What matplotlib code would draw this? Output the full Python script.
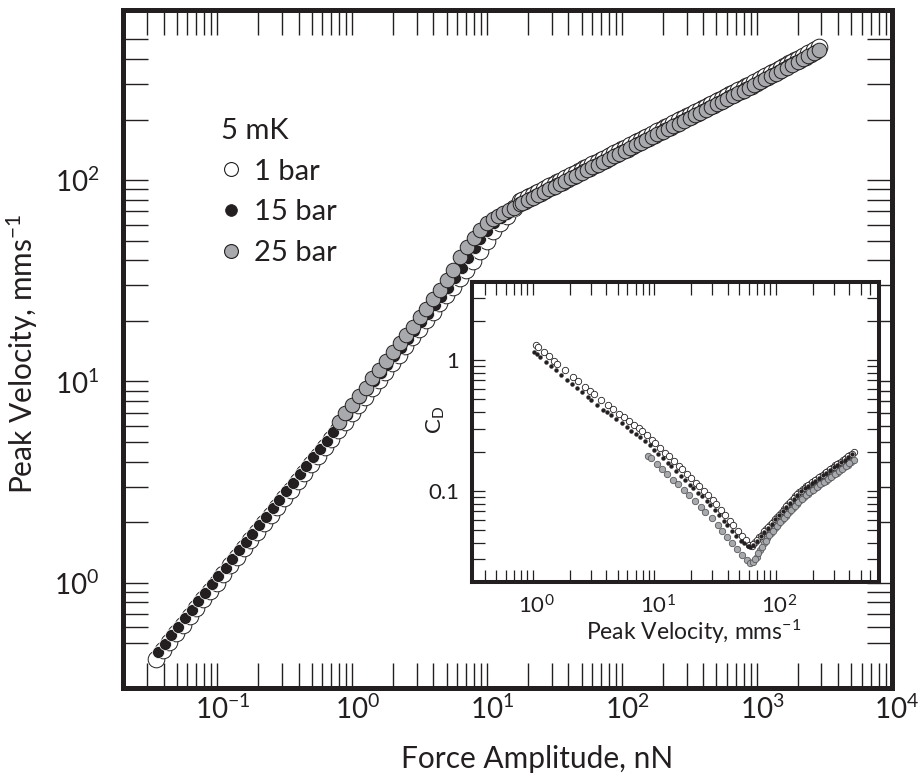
import matplotlib
matplotlib.use('Agg')
import matplotlib.pyplot as plt
from matplotlib.ticker import FixedLocator, FixedFormatter, NullFormatter
from matplotlib.lines import Line2D
from matplotlib.transforms import ScaledTranslation

plt.rcParams['font.family'] = ['Lato', 'DejaVu Sans']
plt.rcParams['mathtext.fontset'] = 'custom'
plt.rcParams['mathtext.rm'] = 'Lato'
plt.rcParams['mathtext.it'] = 'Lato:italic'
plt.rcParams['mathtext.bf'] = 'Lato:bold'

INK = '#231f20'
GREY = '#a7a9ac'

# ---------------- main panel data: Force amplitude (nN) vs peak velocity (mm/s)
force_upper = [17.4, 19.1, 20.9, 22.9, 25.1, 27.5, 30.2, 33.1, 36.3, 39.8, 43.7, 47.9,
               52.5, 57.5, 63.1, 69.2, 75.9, 83.2, 91.2, 100, 110, 120, 132, 145, 158,
               174, 191, 209, 229, 251, 275, 302, 331, 363, 398, 437, 479, 525, 575,
               631, 692, 759, 832, 912, 1000, 1096, 1202, 1318, 1445, 1585, 1738, 1905,
               2089, 2291, 2512, 2754]
force_upper_mid = [18.2, 20.0, 21.9, 24.0, 26.3, 28.8, 31.6, 34.7, 38.0, 41.7, 45.7, 50.1,
                   55.0, 60.3, 66.1, 72.4, 79.4, 87.1, 95.5, 104.7, 114.8, 125.9, 138.0,
                   151.4, 166.0, 182.0, 199.5, 218.8, 239.9, 263.0, 288.4, 316.2, 346.7,
                   380.2, 416.9, 457.1, 501.2, 549.5, 602.6, 660.7, 724.4, 794.3, 871.0,
                   955.0, 1047, 1148, 1259, 1380, 1514, 1660, 1820, 1995, 2188, 2399, 2630]

force_1bar_low = [0.0351, 0.0394, 0.0442, 0.0495, 0.0556, 0.0624, 0.0700, 0.0785, 0.0881,
                  0.0989, 0.111, 0.124, 0.140, 0.157, 0.176, 0.197, 0.221, 0.248, 0.279,
                  0.313, 0.351, 0.394, 0.442, 0.495, 0.556, 0.624, 0.700, 0.785, 0.881,
                  0.989, 1.11, 1.24, 1.40, 1.57, 1.76, 1.97, 2.21, 2.48, 2.79, 3.13, 3.51,
                  3.94, 4.42, 4.95, 5.56, 6.24, 7.00, 7.85, 8.81, 9.89, 11.1, 12.4, 14.0, 15.7]
vel_1bar_low = [0.420, 0.462, 0.509, 0.561, 0.618, 0.681, 0.750, 0.826, 0.910, 1.00, 1.10,
                1.22, 1.34, 1.48, 1.63, 1.79, 1.97, 2.17, 2.39, 2.64, 2.90, 3.20, 3.52, 3.88,
                4.28, 4.71, 5.19, 5.71, 6.30, 6.93, 7.64, 8.41, 9.27, 10.2, 11.2, 12.4, 13.6,
                15.0, 16.6, 18.2, 20.1, 22.1, 24.4, 26.9, 29.6, 32.6, 35.9, 39.8, 44.7, 50.1,
                55.6, 61.0, 66.1, 72.4]
vel_1bar_up = [78.5, 80.9, 83.4, 86.1, 88.8, 91.6, 94.5, 97.6, 100.7, 104.0, 107.3, 110.6,
               114.3, 117.9, 121.6, 125.5, 129.5, 133.7, 138.0, 142.3, 146.9, 151.5, 156.3,
               161.4, 166.4, 171.8, 177.3, 182.9, 188.8, 194.8, 200.9, 207.3, 213.9, 220.7,
               227.8, 235.0, 242.5, 250.3, 258.2, 266.5, 274.9, 283.6, 292.6, 301.9, 311.6,
               322.1, 333.2, 344.2, 356.1, 368.1, 380.5, 393.5, 406.4, 420.5, 434.5, 449.7]
vel_1bar_mid = [79.7, 82.2, 84.8, 87.5, 90.1, 93.0, 96.0, 99.2, 102.4, 105.7, 109.0, 112.4,
                116.0, 119.7, 123.6, 127.5, 131.5, 135.8, 140.1, 144.6, 149.1, 153.9, 158.8,
                163.8, 169.1, 174.5, 180.1, 185.8, 191.8, 197.8, 204.1, 210.6, 217.2, 224.2,
                231.4, 238.8, 246.3, 254.2, 262.4, 270.7, 279.2, 288.0, 297.3, 306.8, 316.8,
                327.6, 338.7, 350.1, 362.1, 374.3, 387.0, 399.9, 413.5, 427.5, 442.0]
force_1bar_end = [2884]
vel_1bar_end = [460]

force_15bar_low = [0.0363, 0.0407, 0.0457, 0.0513, 0.0575, 0.0646, 0.0724, 0.0813, 0.0912,
                   0.102, 0.115, 0.129, 0.145, 0.162, 0.182, 0.204, 0.229, 0.257, 0.288,
                   0.324, 0.363, 0.407, 0.457, 0.513, 0.575, 0.646, 0.724, 0.813, 0.912,
                   1.02, 1.15, 1.29, 1.45, 1.62, 1.82, 2.04, 2.29, 2.57, 2.88, 3.24, 3.63,
                   4.07, 4.57, 5.13, 5.75, 6.46, 7.24, 8.13, 8.91, 10.0, 11.2, 12.6, 14.1, 15.8]
vel_15bar_low = [0.453, 0.499, 0.550, 0.605, 0.667, 0.735, 0.809, 0.891, 0.982, 1.08, 1.19,
                 1.31, 1.45, 1.59, 1.75, 1.93, 2.13, 2.34, 2.58, 2.84, 3.13, 3.45, 3.80, 4.19,
                 4.61, 5.08, 5.60, 6.17, 6.79, 7.48, 8.24, 9.08, 10.0, 11.0, 12.1, 13.4, 14.7,
                 16.2, 17.9, 19.7, 21.7, 23.9, 26.3, 29.0, 32.5, 36.5, 41.0, 46.0, 51.0, 56.0,
                 61.0, 65.0, 68.0, 71.0]
vel_15bar_up = [74.9, 77.3, 79.7, 82.2, 84.8, 87.5, 90.3, 93.2, 96.2, 99.3, 102.5, 105.7,
                109.1, 112.6, 116.2, 119.9, 123.7, 127.7, 131.8, 135.9, 140.3, 144.7, 149.3,
                154.1, 159.0, 164.1, 169.3, 174.7, 180.3, 186.0, 191.9, 198.0, 204.3, 210.8,
                217.6, 224.5, 231.6, 239.0, 246.6, 254.5, 262.6, 270.9, 279.5, 288.4, 297.6,
                307.6, 318.2, 328.8, 340.2, 351.6, 363.4, 375.8, 388.2, 401.6, 415.0, 429.5]

force_25bar_low = [0.794, 0.891, 1.00, 1.12, 1.26, 1.41, 1.58, 1.78, 2.00, 2.24, 2.51, 2.82,
                   3.16, 3.55, 3.98, 4.47, 5.01, 5.62, 6.31, 7.08, 7.94, 8.91, 10.0, 11.0,
                   12.0, 13.2, 14.5, 15.8]
vel_25bar_low = [6.32, 6.97, 7.67, 8.45, 9.31, 10.4, 11.4, 12.6, 14.0, 15.5, 17.0, 18.7,
                 20.9, 23.0, 25.6, 28.6, 31.8, 35.9, 41.4, 46.7, 51.4, 56.5, 61.0, 63.8,
                 66.4, 68.7, 70.8, 72.8]
vel_25bar_up = [75.8, 78.2, 80.6, 83.2, 85.8, 88.5, 91.3, 94.3, 97.3, 100.5, 103.7, 106.9,
                110.4, 113.9, 117.5, 121.3, 125.1, 129.2, 133.3, 137.5, 141.9, 146.4, 151.0,
                155.9, 160.8, 166.0, 171.3, 176.7, 182.4, 188.2, 194.1, 200.3, 206.7, 213.2,
                220.1, 227.1, 234.3, 241.8, 249.5, 257.5, 265.6, 274.0, 282.7, 291.7, 301.1,
                311.2, 321.9, 332.6, 344.1, 355.7, 367.6, 380.2, 392.7, 406.3, 419.8, 434.5]
vel_25bar_mid = [77.0, 79.4, 81.9, 84.5, 87.1, 89.9, 92.8, 95.8, 98.9, 102.1, 105.3, 108.6,
                 112.1, 115.7, 119.4, 123.2, 127.1, 131.2, 135.4, 139.7, 144.1, 148.7, 153.4,
                 158.3, 163.4, 168.6, 174.0, 179.5, 185.3, 191.1, 197.2, 203.5, 209.9, 216.6,
                 223.6, 230.7, 238.0, 245.6, 253.5, 261.5, 269.8, 278.3, 287.2, 296.4, 306.1,
                 316.5, 327.2, 338.3, 349.9, 361.6, 373.9, 386.4, 399.5, 413.0, 427.1]
force_25bar_end = [2884]
vel_25bar_end = [443]

# ---------------- inset data: drag coefficient vs peak velocity
iv_1bar = [1.05, 1.10, 1.23, 1.35, 1.48, 1.58, 1.82, 2.14, 2.34, 2.69, 2.95, 3.16, 3.63, 4.17,
           4.57, 5.13, 5.62, 6.17, 6.76, 7.41, 7.94, 8.71, 9.55, 10.2, 11.2, 12.3, 13.2, 14.5,
           15.8, 17.0, 18.6, 20.0, 21.9, 23.4, 25.7, 27.5, 30.2, 32.4, 35.5, 38.0, 41.7, 44.7,
           49.0, 52.5, 56.2, 60.3,
           63.1, 67.6, 72.4, 77.6, 83.2, 89.1, 95.5, 102.3, 109.6, 117.5, 125.9, 134.9, 144.5,
           154.9, 166.0, 177.8, 190.5, 204.2, 218.8, 234.4, 251.2, 269.2, 288.4, 309.0, 331.1,
           354.8, 380.2, 407.4, 436.5,
           65.3, 70.0, 75.0, 80.4, 86.1, 92.3, 98.9, 105.9, 113.5, 121.6, 130.3, 139.6, 149.6,
           160.3, 171.8, 184.1, 197.2, 211.3, 226.5, 242.7, 260.0, 278.6, 298.5, 319.9, 342.8,
           367.3, 393.6, 421.7]
cd_1bar = [1.297, 1.253, 1.146, 1.064, 0.991, 0.940, 0.843, 0.743, 0.692, 0.621, 0.578, 0.548,
           0.495, 0.450, 0.422, 0.390, 0.366, 0.343, 0.321, 0.301, 0.287, 0.267, 0.246, 0.231,
           0.213, 0.196, 0.184, 0.169, 0.156, 0.147, 0.135, 0.126, 0.116, 0.109, 0.100, 0.0938,
           0.0859, 0.0796, 0.0716, 0.0661, 0.0594, 0.0548, 0.0493, 0.0455, 0.0421, 0.0389,
           0.0380, 0.0407, 0.0442, 0.0473, 0.0513, 0.0550, 0.0589, 0.0638, 0.0684, 0.0733,
           0.0794, 0.0851, 0.0912, 0.0977, 0.1035, 0.1084, 0.1135, 0.1189, 0.1245, 0.1303,
           0.1365, 0.1429, 0.1496, 0.1567, 0.1641, 0.1718, 0.1799, 0.1884, 0.1972,
           0.0393, 0.0424, 0.0457, 0.0493, 0.0531, 0.0569, 0.0613, 0.0661, 0.0708, 0.0763,
           0.0822, 0.0881, 0.0944, 0.1006, 0.1059, 0.1109, 0.1162, 0.1217, 0.1274, 0.1334,
           0.1397, 0.1462, 0.1531, 0.1604, 0.1679, 0.1758, 0.1841, 0.1928]

iv_15bar = [1.02, 1.07, 1.15, 1.29, 1.41, 1.55, 1.70, 1.91, 2.09, 2.29, 2.51, 2.82, 3.02, 3.39,
            3.80, 4.07, 4.37, 4.79, 5.37, 5.89, 6.46, 7.08, 7.59, 8.32, 9.12, 10.0, 10.7, 11.7,
            12.9, 13.8, 15.1, 16.6, 17.8, 19.5, 20.9, 22.9, 24.5, 26.9, 28.8, 31.6, 33.9, 37.2,
            39.8, 43.7, 46.8, 51.3, 55.0, 58.9, 61.7,
            65.3, 70.0, 75.0, 80.4, 86.1, 92.3, 98.9, 105.9, 113.5, 121.6, 130.3, 139.6, 149.6,
            160.3, 171.8, 184.1, 197.2, 211.3, 226.5, 242.7, 260.0, 278.6, 298.5, 319.9, 342.8,
            367.3, 393.6, 421.7]
cd_15bar = [1.151, 1.109, 1.052, 0.962, 0.895, 0.834, 0.774, 0.708, 0.659, 0.614, 0.571, 0.522,
            0.494, 0.453, 0.418, 0.398, 0.379, 0.356, 0.329, 0.308, 0.289, 0.271, 0.258, 0.242,
            0.223, 0.206, 0.193, 0.178, 0.164, 0.154, 0.142, 0.130, 0.122, 0.112, 0.106, 0.0968,
            0.0908, 0.0834, 0.0782, 0.0713, 0.0658, 0.0592, 0.0546, 0.0491, 0.0453, 0.0417,
            0.0398, 0.0380, 0.0372,
            0.0385, 0.0417, 0.0452, 0.0490, 0.0525, 0.0562, 0.0610, 0.0653, 0.0700, 0.0755,
            0.0813, 0.0871, 0.0933, 0.0993, 0.1047, 0.1096, 0.1148, 0.1202, 0.1259, 0.1318,
            0.1380, 0.1445, 0.1514, 0.1585, 0.1660, 0.1738, 0.1820, 0.1905]

iv_25bar = [8.91, 9.33, 10.5, 11.5, 12.6, 14.1, 15.5, 17.4, 19.1, 21.4, 24.0, 26.3, 29.5, 33.1,
            36.3, 39.8, 43.7, 47.9, 52.5, 57.5, 61.7,
            64.6, 69.2, 74.1, 79.4, 85.1, 91.2, 97.7, 104.7, 112.2, 120.2, 128.8, 138.0, 147.9,
            158.5, 169.8, 182.0, 195.0, 208.9, 223.9, 239.9, 257.0, 275.4, 295.1, 316.2, 338.8,
            363.1, 389.0, 416.9, 436.5,
            66.9, 71.6, 76.7, 82.2, 88.1, 94.4, 101.2, 108.4, 116.1, 124.4, 133.3, 142.9, 153.1,
            164.0, 175.8, 188.4, 201.8, 216.3, 231.8, 248.3, 266.0, 285.1, 305.5, 327.3, 350.7,
            375.8, 402.7]
cd_25bar = [0.185, 0.178, 0.160, 0.148, 0.136, 0.122, 0.113, 0.102, 0.0935, 0.0839, 0.0755,
            0.0692, 0.0622, 0.0550, 0.0493, 0.0444, 0.0399, 0.0359, 0.0324, 0.0295, 0.0282,
            0.0288, 0.0316, 0.0355, 0.0398, 0.0437, 0.0479, 0.0519, 0.0562, 0.0603, 0.0646,
            0.0692, 0.0741, 0.0794, 0.0851, 0.0902, 0.0955, 0.1000, 0.1047, 0.1096, 0.1148,
            0.1202, 0.1259, 0.1318, 0.1380, 0.1445, 0.1514, 0.1585, 0.1660, 0.1718,
            0.0302, 0.0335, 0.0376, 0.0417, 0.0458, 0.0499, 0.0540, 0.0582, 0.0624, 0.0669,
            0.0716, 0.0767, 0.0822, 0.0876, 0.0928, 0.0977, 0.1023, 0.1071, 0.1122, 0.1175,
            0.1230, 0.1288, 0.1349, 0.1412, 0.1479, 0.1549, 0.1622]

# ---------------- ticks / labels
main_x_major = [0.1, 1, 10, 100, 1000, 10000]
main_x_labels = [r'$\mathregular{10^{-1}}$', r'$\mathregular{10^{0}}$', r'$\mathregular{10^{1}}$',
                 r'$\mathregular{10^{2}}$', r'$\mathregular{10^{3}}$', r'$\mathregular{10^{4}}$']
main_y_major = [1, 10, 100]
main_y_labels = [r'$\mathregular{10^{0}}$', r'$\mathregular{10^{1}}$', r'$\mathregular{10^{2}}$']
inset_x_major = [1, 10, 100]
inset_x_labels = [r'$\mathregular{10^{0}}$', r'$\mathregular{10^{1}}$', r'$\mathregular{10^{2}}$']
inset_y_major = [0.1, 1]
inset_y_labels = ['0.1', '1']
legend_title = '5 mK'
legend_labels = ['1 bar', '15 bar', '25 bar']

main_x_minor = [m * 10.0 ** e for e in range(-2, 4) for m in range(2, 10) if m * 10.0 ** e > 0.025]
main_y_minor = [m * 10.0 ** e for e in range(-1, 3) for m in range(2, 10)
                if 0.45 < m * 10.0 ** e < 550]
inset_x_minor = [m * 10.0 ** e for e in range(-1, 3) for m in range(2, 10)
                 if 0.35 < m * 10.0 ** e < 650]
inset_y_minor = [m * 10.0 ** e for e in range(-2, 1) for m in range(2, 10)
                 if 0.025 < m * 10.0 ** e < 3.5]

fig = plt.figure(figsize=(9.23, 7.79), dpi=100)
ax = fig.add_axes([123 / 923, 1 - 688 / 779, 769 / 923, 678 / 779])
ax.set_xscale('log')
ax.set_yscale('log')
ax.set_xlim(0.02, 1e4)
ax.set_ylim(0.3, 700)

ax.plot(force_1bar_low + force_upper + force_upper_mid + force_1bar_end,
        vel_1bar_low + vel_1bar_up + vel_1bar_mid + vel_1bar_end,
        ls='none', marker='o', ms=12, mfc='white', mec=INK, mew=0.7, zorder=3)
ax.plot(force_15bar_low + force_upper, vel_15bar_low + vel_15bar_up,
        ls='none', marker='o', ms=8.6, mfc=INK, mec='white', mew=0.5, zorder=4)
ax.plot(force_25bar_low + force_upper + force_upper_mid + force_25bar_end,
        vel_25bar_low + vel_25bar_up + vel_25bar_mid + vel_25bar_end,
        ls='none', marker='o', ms=10.5, mfc=GREY, mec=INK, mew=0.7, zorder=5)

ax.xaxis.set_major_locator(FixedLocator(main_x_major))
ax.xaxis.set_major_formatter(FixedFormatter(main_x_labels))
ax.xaxis.set_minor_locator(FixedLocator(main_x_minor))
ax.xaxis.set_minor_formatter(NullFormatter())
ax.yaxis.set_major_locator(FixedLocator(main_y_major))
ax.yaxis.set_major_formatter(FixedFormatter(main_y_labels))
ax.yaxis.set_minor_locator(FixedLocator(main_y_minor))
ax.yaxis.set_minor_formatter(NullFormatter())
ax.tick_params(which='both', direction='in', length=18, width=1.0, color=INK,
               top=True, right=True, labelsize=20, labelcolor=INK)
ax.tick_params(axis='x', which='major', pad=5)
ax.tick_params(axis='y', which='major', pad=17)
for s in ax.spines.values():
    s.set_linewidth(3.6)
    s.set_color(INK)
for lbl in ax.xaxis.get_majorticklabels():
    lbl.set_transform(lbl.get_transform() + ScaledTranslation(0.05, 0, fig.dpi_scale_trans))

ax.set_xlabel('Force Amplitude, nN', fontsize=21.5, color=INK)
ax.xaxis.set_label_coords(0.538, -0.084)
ax.set_ylabel(r'Peak Velocity, mms$^{\mathregular{-1}}$', fontsize=21.5, color=INK)
ax.yaxis.set_label_coords(-0.108, 0.4926)

handles = [Line2D([], [], ls='none', marker='o', ms=10, mfc='white', mec=INK, mew=0.8),
           Line2D([], [], ls='none', marker='o', ms=8.5, mfc=INK, mec=INK, mew=0.5),
           Line2D([], [], ls='none', marker='o', ms=10, mfc=GREY, mec=INK, mew=0.8)]
leg = ax.legend(handles, legend_labels, title=legend_title, loc='upper left',
                bbox_to_anchor=(221 / 923, 1 - 118 / 779), bbox_transform=fig.transFigure,
                frameon=False, fontsize=21, title_fontsize=21, alignment='left',
                handlelength=0.7, handletextpad=0.42, labelspacing=0.5, borderpad=0,
                borderaxespad=0)
for t in leg.get_texts():
    t.set_color(INK)
leg.get_title().set_color(INK)

# ---------------- inset
axi = fig.add_axes([472 / 923, 1 - 582 / 779, 407 / 923, 300 / 779])
axi.set_xscale('log')
axi.set_yscale('log')
axi.set_xlim(0.315, 705)
axi.set_ylim(0.0202, 3.94)

axi.plot(iv_1bar, cd_1bar, ls='none', marker='o', ms=4.6, mfc='white', mec=INK, mew=0.6, zorder=3)
axi.plot(iv_25bar, cd_25bar, ls='none', marker='o', ms=4.6, mfc=GREY, mec='#58595b', mew=0.6, zorder=4)
axi.plot(iv_15bar, cd_15bar, ls='none', marker='o', ms=2.8, mfc=INK, mec=INK, mew=0.3, zorder=5)

axi.xaxis.set_major_locator(FixedLocator(inset_x_major))
axi.xaxis.set_major_formatter(FixedFormatter(inset_x_labels))
axi.xaxis.set_minor_locator(FixedLocator(inset_x_minor))
axi.xaxis.set_minor_formatter(NullFormatter())
axi.yaxis.set_major_locator(FixedLocator(inset_y_major))
axi.yaxis.set_major_formatter(FixedFormatter(inset_y_labels))
axi.yaxis.set_minor_locator(FixedLocator(inset_y_minor))
axi.yaxis.set_minor_formatter(NullFormatter())
axi.tick_params(which='both', direction='in', length=9, width=0.9, color=INK,
                top=True, right=True, labelsize=16, labelcolor=INK)
axi.tick_params(axis='x', which='major', pad=9)
axi.tick_params(axis='y', which='major', pad=9)
for s in axi.spines.values():
    s.set_linewidth(2.9)
    s.set_color(INK)
for lbl in axi.xaxis.get_majorticklabels():
    lbl.set_transform(lbl.get_transform() + ScaledTranslation(0.03, 0, fig.dpi_scale_trans))

axi.set_xlabel(r'Peak Velocity, mms$^{\mathregular{-1}}$', fontsize=16.5, color=INK)
axi.xaxis.set_label_coords(0.545, -0.12)
axi.set_ylabel(r'C$_{\mathregular{D}}$', fontsize=16, color=INK)
axi.yaxis.set_label_coords(-0.062, 0.54)

fig.savefig('out.png', dpi=100)
